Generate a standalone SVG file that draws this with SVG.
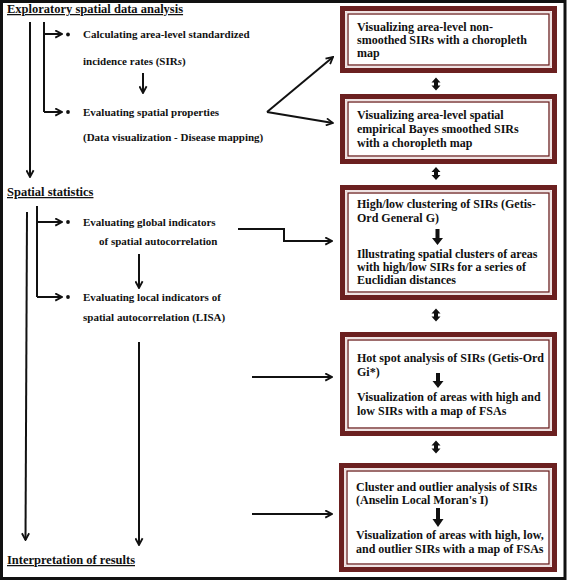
<svg xmlns="http://www.w3.org/2000/svg" width="567" height="581" viewBox="0 0 567 581">
<style>
text{font-family:"Liberation Serif","Times New Roman",serif;font-weight:bold;fill:#111}
.h{font-size:12.5px;text-decoration:underline}
.l{font-size:11px}
.b{font-size:12px}
.ln{fill:none;stroke:#111;stroke-width:2}
.bo{fill:#fff;stroke:#6b2020;stroke-width:5}
.bi{fill:none;stroke:#6b2020;stroke-width:1.3}
.bl{fill:none;stroke:#d8b8b8;stroke-width:0.8}
.da{fill:#111}
</style>
<defs>
<marker id="ah" viewBox="0 0 10 10" refX="9" refY="5" markerWidth="9" markerHeight="9" markerUnits="userSpaceOnUse" orient="auto">
<path d="M1.5,1 L9,5 L1.5,9" fill="none" stroke="#111" stroke-width="2"/>
</marker>
<path id="dbl" d="M0,-6.5 L-4.5,-1.5 L-2,-1.5 L-2,1.5 L-4.5,1.5 L0,6.5 L4.5,1.5 L2,1.5 L2,-1.5 L4.5,-1.5 Z"/>
</defs>
<rect x="1.5" y="1.5" width="563.5" height="577" fill="#fff" stroke="#111" stroke-width="3"/>

<g id="header-exploratory"><text class="h" x="7" y="13">Exploratory spatial data analysis</text></g>
<g id="header-spatial"><text class="h" x="7" y="196">Spatial statistics</text></g>
<g id="header-interpretation"><text class="h" x="7" y="564">Interpretation of results</text></g>

<g id="item-sirs">
<circle cx="68" cy="34.5" r="1.9" fill="#111"/>
<text class="l" x="83" y="38">Calculating area-level standardized</text>
<text class="l" x="83" y="65">incidence rates (SIR<tspan font-style="italic">s</tspan>)</text>
</g>
<g id="item-spatial-props">
<circle cx="68" cy="112" r="1.9" fill="#111"/>
<text class="l" x="83" y="116">Evaluating spatial properties</text>
<text class="l" x="83" y="141">(Data visualization - Disease mapping)</text>
</g>
<g id="item-global">
<circle cx="68" cy="222" r="1.9" fill="#111"/>
<text class="l" x="83" y="226">Evaluating global indicators</text>
<text class="l" x="99" y="245">of spatial autocorrelation</text>
</g>
<g id="item-local">
<circle cx="68" cy="297" r="1.9" fill="#111"/>
<text class="l" x="83" y="301">Evaluating local indicators of</text>
<text class="l" x="83" y="321">spatial autocorrelation (LISA)</text>
</g>

<g id="box1">
<rect class="bo" x="342.5" y="8.5" width="212" height="62"/>
<rect class="bl" x="346" y="12" width="205" height="55"/>
<rect class="bi" x="348" y="14" width="201" height="51"/>
<text class="b" x="357" y="31">Visualizing area-level non-</text>
<text class="b" x="357" y="44">smoothed SIRs with a choropleth</text>
<text class="b" x="357" y="57">map</text>
</g>
<g id="box2">
<rect class="bo" x="342.5" y="96.5" width="212" height="65"/>
<rect class="bl" x="346" y="100" width="205" height="58"/>
<rect class="bi" x="348" y="102" width="201" height="54"/>
<text class="b" x="357" y="119">Visualizing area-level spatial</text>
<text class="b" x="357" y="133">empirical Bayes smoothed SIRs</text>
<text class="b" x="357" y="147">with a choropleth map</text>
</g>
<g id="box3">
<rect class="bo" x="342.5" y="187.5" width="212" height="110"/>
<rect class="bl" x="346" y="191" width="205" height="103"/>
<rect class="bi" x="348" y="193" width="201" height="99"/>
<text class="b" x="357" y="208">High/low clustering of SIRs (Getis-</text>
<text class="b" x="357" y="222">Ord General G)</text>
<path class="da" d="M435.5,229 H439.5 V238 H443 L437.5,245 L432,238 H435.5 Z"/>
<text class="b" x="357" y="258">Illustrating spatial clusters of areas</text>
<text class="b" x="357" y="271">with high/low SIRs for a series of</text>
<text class="b" x="357" y="284">Euclidian distances</text>
</g>
<g id="box4">
<rect class="bo" x="342.5" y="334.5" width="212" height="99"/>
<rect class="bl" x="346" y="338" width="205" height="92"/>
<rect class="bi" x="348" y="340" width="201" height="88"/>
<text class="b" x="357" y="362">Hot spot analysis of SIRs (Getis-Ord</text>
<text class="b" x="357" y="376">Gi*)</text>
<path class="da" d="M436,373 H440 V381 H443.5 L438,388 L432.5,381 H436 Z"/>
<text class="b" x="357" y="401">Visualization of areas with high and</text>
<text class="b" x="357" y="415">low SIRs with a map of FSAs</text>
</g>
<g id="box5">
<rect class="bo" x="341.5" y="465.5" width="213" height="104"/>
<rect class="bl" x="345" y="469" width="206" height="97"/>
<rect class="bi" x="347" y="471" width="202" height="93"/>
<text class="b" x="356" y="491">Cluster and outlier analysis of SIRs</text>
<text class="b" x="356" y="504">(Anselin Local Moran's I)</text>
<path class="da" d="M436,508 H440 V519 H443.5 L438,527 L432.5,519 H436 Z"/>
<text class="b" x="356" y="539">Visualization of areas with high, low,</text>
<text class="b" x="356" y="553">and outlier SIRs with a map of FSAs</text>
</g>

<g id="connectors">
<path class="ln" d="M30,22 V177" marker-end="url(#ah)"/>
<path class="ln" d="M44,22 V112"/>
<path class="ln" d="M44,34 H62" marker-end="url(#ah)"/>
<path class="ln" d="M44,112 H62" marker-end="url(#ah)"/>
<path class="ln" d="M143,73 V93" marker-end="url(#ah)"/>
<path class="ln" d="M267,112 L333,57" marker-end="url(#ah)"/>
<path class="ln" d="M267,112 L333,123" marker-end="url(#ah)"/>
<path class="ln" d="M27,212 L25.5,540" marker-end="url(#ah)"/>
<path class="ln" d="M37,206 V297"/>
<path class="ln" d="M37,222 H62" marker-end="url(#ah)"/>
<path class="ln" d="M37,297 H62" marker-end="url(#ah)"/>
<path class="ln" d="M139,254 V288" marker-end="url(#ah)"/>
<path class="ln" d="M139,342 V545" marker-end="url(#ah)"/>
<path class="ln" d="M238,229 H284 V241 H332" marker-end="url(#ah)"/>
<path class="ln" d="M252,377 H332" marker-end="url(#ah)"/>
<path class="ln" d="M252,514 H332" marker-end="url(#ah)"/>
<use href="#dbl" x="436" y="84" class="da"/>
<use href="#dbl" x="436" y="173.5" class="da"/>
<use href="#dbl" x="436" y="315" class="da"/>
<use href="#dbl" x="436" y="447" class="da"/>
</g>
</svg>
